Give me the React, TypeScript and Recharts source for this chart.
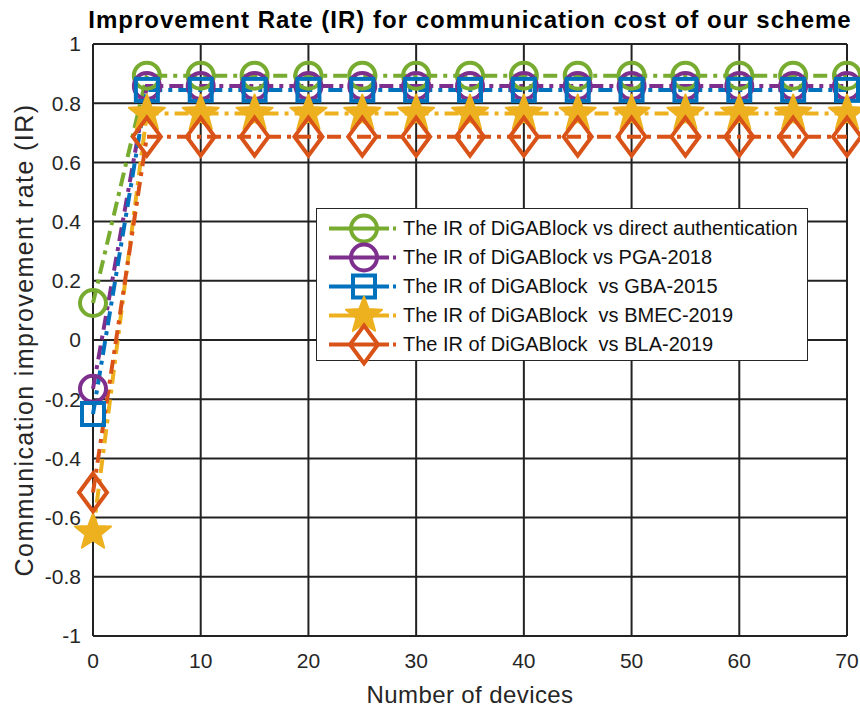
import React from "react";
import { LineChart, Line, XAxis, YAxis, CartesianGrid } from "recharts";

const devices = [0, 5, 10, 15, 20, 25, 30, 35, 40, 45, 50, 55, 60, 65, 70];
const vsDirect = [0.125, 0.893, 0.893, 0.893, 0.893, 0.893, 0.893, 0.893, 0.893, 0.893, 0.893, 0.893, 0.893, 0.893, 0.893];
const vsPGA = [-0.165, 0.858, 0.858, 0.858, 0.858, 0.858, 0.858, 0.858, 0.858, 0.858, 0.858, 0.858, 0.858, 0.858, 0.858];
const vsGBA = [-0.25, 0.845, 0.845, 0.845, 0.845, 0.845, 0.845, 0.845, 0.845, 0.845, 0.845, 0.845, 0.845, 0.845, 0.845];
const vsBMEC = [-0.65, 0.765, 0.765, 0.765, 0.765, 0.765, 0.765, 0.765, 0.765, 0.765, 0.765, 0.765, 0.765, 0.765, 0.765];
const vsBLA = [-0.515, 0.687, 0.687, 0.687, 0.687, 0.687, 0.687, 0.687, 0.687, 0.687, 0.687, 0.687, 0.687, 0.687, 0.687];

const xTicks = [0, 10, 20, 30, 40, 50, 60, 70];
const yTicks = [-1, -0.8, -0.6, -0.4, -0.2, 0, 0.2, 0.4, 0.6, 0.8, 1];

const FONT = "'Liberation Sans', Arial, Helvetica, sans-serif";
const DASH = "14 6 4 6";

type Shape = "circle" | "square" | "star" | "diamond";

const series: { key: string; name: string; color: string; shape: Shape }[] = [
  { key: "direct", name: "The IR of DiGABlock vs direct authentication", color: "#77AC30", shape: "circle" },
  { key: "pga", name: "The IR of DiGABlock vs PGA-2018", color: "#7E2F8E", shape: "circle" },
  { key: "gba", name: "The IR of DiGABlock  vs GBA-2015", color: "#0072BD", shape: "square" },
  { key: "bmec", name: "The IR of DiGABlock  vs BMEC-2019", color: "#EDB120", shape: "star" },
  { key: "bla", name: "The IR of DiGABlock  vs BLA-2019", color: "#D95319", shape: "diamond" },
];

const data = devices.map((d, i) => ({
  x: d,
  direct: vsDirect[i],
  pga: vsPGA[i],
  gba: vsGBA[i],
  bmec: vsBMEC[i],
  bla: vsBLA[i],
}));

function starPoints(cx: number, cy: number, ro: number, ri: number) {
  const pts: string[] = [];
  for (let k = 0; k < 10; k++) {
    const r = k % 2 === 0 ? ro : ri;
    const a = -Math.PI / 2 + (k * Math.PI) / 5;
    pts.push(`${cx + r * Math.cos(a)},${cy + r * Math.sin(a)}`);
  }
  return pts.join(" ");
}

function Marker({ shape, color, cx, cy }: { shape: Shape; color: string; cx: number; cy: number }) {
  if (shape === "circle")
    return <circle cx={cx} cy={cy} r={13} fill="none" stroke={color} strokeWidth={4} />;
  if (shape === "square")
    return <rect x={cx - 11} y={cy - 11} width={22} height={22} fill="none" stroke={color} strokeWidth={4} />;
  if (shape === "diamond")
    return (
      <polygon
        points={`${cx},${cy - 19} ${cx + 14},${cy} ${cx},${cy + 19} ${cx - 14},${cy}`}
        fill="none"
        stroke={color}
        strokeWidth={4}
      />
    );
  return <polygon points={starPoints(cx, cy, 19, 8)} fill={color} stroke={color} strokeWidth={2} strokeLinejoin="round" />;
}

const makeDot = (shape: Shape, color: string) => (props: any) => {
  const { cx, cy, index } = props;
  if (cx == null || cy == null) return <g key={`e${index}`} />;
  return (
    <g key={`d${index}`}>
      <Marker shape={shape} color={color} cx={cx} cy={cy} />
    </g>
  );
};

function LegendBox() {
  return (
    <div
      style={{
        position: "absolute",
        left: 316,
        top: 208,
        width: 492,
        height: 153,
        border: "1.5px solid #262626",
        background: "#fff",
        boxSizing: "border-box",
        fontFamily: FONT,
        fontSize: 20,
        color: "#111",
      }}
    >
      {series.map((s, i) => (
        <div key={s.key} style={{ position: "absolute", left: 0, top: 5 + i * 29, height: 29, display: "flex", alignItems: "center" }}>
          <svg width={86} height={29} style={{ overflow: "visible" }}>
            <line x1={12} y1={14.5} x2={82} y2={14.5} stroke={s.color} strokeWidth={4} strokeDasharray="60 4 3 4" />
            <Marker shape={s.shape} color={s.color} cx={47} cy={14.5} />
          </svg>
          <span style={{ whiteSpace: "pre" }}>{s.name}</span>
        </div>
      ))}
    </div>
  );
}

export default function App() {
  return (
    <div style={{ position: "absolute", left: 0, top: 0, width: 860, height: 709, background: "#fff", overflow: "hidden" }}>
      <div
        style={{
          position: "absolute",
          left: 0,
          top: 6,
          width: 940,
          textAlign: "center",
          fontFamily: FONT,
          fontWeight: "bold",
          fontSize: 24,
          letterSpacing: 1,
          color: "#000",
        }}
      >
        Improvement Rate (IR) for communication cost of our scheme
      </div>
      <LineChart width={860} height={709} data={data} margin={{ top: 44, right: 13, bottom: 0, left: 13 }}>
        <CartesianGrid stroke="#222" strokeWidth={2} horizontalValues={yTicks} verticalValues={xTicks} />
        <XAxis
          dataKey="x"
          type="number"
          domain={[0, 70]}
          ticks={xTicks}
          height={73}
          tickLine={false}
          axisLine={false}
          tickSize={0}
          tickMargin={17}
          tick={{ fontSize: 21, fill: "#262626", fontFamily: FONT }}
          label={{ value: "Number of devices", position: "insideBottom", offset: 6, style: { fontSize: 24, fill: "#262626", fontFamily: FONT, letterSpacing: 0.4 } }}
        />
        <YAxis
          type="number"
          domain={[-1, 1]}
          ticks={yTicks}
          width={80}
          tickLine={false}
          axisLine={false}
          tickSize={0}
          tickMargin={12}
          tick={{ fontSize: 21, fill: "#262626", fontFamily: FONT }}
          label={{
            value: "Communication improvement rate (IR)",
            angle: -90,
            position: "insideLeft",
            offset: 11,
            style: { fontSize: 25, fill: "#262626", fontFamily: FONT, textAnchor: "middle", letterSpacing: 1.4 },
          }}
        />
        {series.map((s) => (
          <Line
            key={s.key}
            dataKey={s.key}
            stroke={s.color}
            strokeWidth={4}
            strokeDasharray={DASH}
            dot={makeDot(s.shape, s.color)}
            activeDot={false}
            isAnimationActive={false}
          />
        ))}
      </LineChart>
      <LegendBox />
    </div>
  );
}
